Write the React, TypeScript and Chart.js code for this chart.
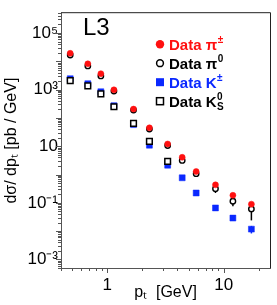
import React, { useEffect, useRef } from 'react';
import { Chart, registerables } from 'chart.js';

Chart.register(...registerables);

const FONT = "'Liberation Sans', Arial, Helvetica, sans-serif";

// ---- data ----
const ptValues = [0.48, 0.68, 0.88, 1.14, 1.68, 2.3, 3.3, 4.4, 5.8, 8.5, 12, 17.3];
const piChargedValues = [19100, 8150, 3650, 982, 205, 44.7, 12, 4.07, 1.28, 0.433, 0.185, 0.09];
const piZeroValues = [16700, 6890, 3055, 888, 189, 40.4, 10.6, 3.16, 1.07, 0.318, 0.114, 0.061];
const piZeroErrors = [0, 0, 0, 0, 0, 0, 1.5, 0.6, 0.1, 0.095, 0.0385, 0.037];
const kChargedValues = [2425, 1611, 841, 272, 58, 10.9, 2.14, 0.767, 0.223, 0.0662, 0.029, 0.0118];
const kChargedErrors = [0, 0, 0, 0, 0, 0, 0, 0.03, 0.015, 0.008, 0.004, 0.0035];
const kShortPt = [0.48, 0.68, 0.88, 1.14, 1.68, 2.3, 3.3];
const kShortValues = [2075, 1358, 704, 248, 64, 14.8, 2.92];
const kShortErrors = [0, 0, 0, 0, 0, 2, 0.6];

const xTickValues = [1, 10];
const xTickLabels = ['1', '10'];
const yTickValues = [1e5, 1e3, 10, 0.1, 1e-3];
const yTickLabels = ['10\u2075', '10\u00B3', '10', '10\u207B\u00B9', '10\u207B\u00B3'];

const legendBase = ['Data \u03C0', 'Data \u03C0', 'Data K', 'Data K'];
const legendSup = ['\u00B1', '0', '\u00B1', '0'];
const legendSub = ['', '', '', 'S'];

const RED = '#ff1010';
const BLUE = '#0a28ff';

const toPoints = (xs: number[], ys: number[]) => ys.map((v, i) => ({ x: xs[i], y: v }));

const matchLabel = (value: number, vals: number[], labels: string[]) => {
  const lv = Math.log10(value);
  for (let i = 0; i < vals.length; i++) {
    if (Math.abs(lv - Math.log10(vals[i])) < 1e-6) return labels[i];
  }
  return '';
};

const isIntMantissa = (v: number) => {
  const e = Math.floor(Math.log10(v) + 1e-9);
  const m = v / Math.pow(10, e);
  return Math.abs(m - Math.round(m)) < 1e-6;
};
const isPow10 = (v: number) => {
  const l = Math.log10(v);
  return Math.abs(l - Math.round(l)) < 1e-6;
};

const errorBarPlugin = {
  id: 'errorBars',
  beforeDatasetsDraw(chart: any) {
    const { ctx, scales } = chart;
    const x = scales.x, y = scales.y;
    chart.data.datasets.forEach((ds: any) => {
      const errs: number[] | undefined = ds.errors;
      if (!errs) return;
      ctx.save();
      ctx.strokeStyle = ds.errorColor;
      ctx.lineWidth = 1.5;
      ds.data.forEach((p: any, j: number) => {
        const e = errs[j];
        if (!e) return;
        const px = x.getPixelForValue(p.x);
        const y1 = y.getPixelForValue(Math.max(p.y - e, 1e-6));
        const y2 = y.getPixelForValue(p.y + e);
        ctx.beginPath();
        ctx.moveTo(px, y1);
        ctx.lineTo(px, y2);
        ctx.stroke();
      });
      ctx.restore();
    });
  },
};

const decorPlugin = {
  id: 'decor',
  afterDraw(chart: any) {
    const { ctx, chartArea: a, scales } = chart;
    const x = scales.x, y = scales.y;
    ctx.save();
    // tick marks
    ctx.strokeStyle = '#555';
    ctx.lineWidth = 1;
    x.ticks.forEach((t: any) => {
      if (!isIntMantissa(t.value)) return;
      const px = Math.round(x.getPixelForValue(t.value)) + 0.5;
      const len = isPow10(t.value) ? 5 : 3;
      ctx.beginPath();
      ctx.moveTo(px, a.bottom);
      ctx.lineTo(px, a.bottom + len);
      ctx.stroke();
    });
    y.ticks.forEach((t: any) => {
      if (!isIntMantissa(t.value)) return;
      const py = Math.round(y.getPixelForValue(t.value)) + 0.5;
      const len = isPow10(t.value) ? 5 : 3;
      ctx.beginPath();
      ctx.moveTo(a.left, py);
      ctx.lineTo(a.left - len, py);
      ctx.stroke();
    });
    // frame top / right
    ctx.strokeStyle = '#222';
    ctx.beginPath();
    ctx.moveTo(a.left, a.top - 0.5);
    ctx.lineTo(a.right + 0.5, a.top - 0.5);
    ctx.lineTo(a.right + 0.5, a.bottom);
    ctx.stroke();

    // experiment label
    ctx.fillStyle = '#000';
    ctx.font = `24px ${FONT}`;
    ctx.textBaseline = 'alphabetic';
    ctx.textAlign = 'left';
    ctx.fillText('L3', a.left + 22, a.top + 22);

    // legend
    const rows = [a.top + 31, a.top + 50, a.top + 69, a.top + 88];
    const mx = a.left + 99;
    const tx = a.left + 108;
    const colors = [RED, '#000', BLUE, '#000'];
    rows.forEach((cy, i) => {
      ctx.lineWidth = 1.5;
      if (i === 0) {
        ctx.fillStyle = RED;
        ctx.beginPath();
        ctx.arc(mx, cy, 4.2, 0, Math.PI * 2);
        ctx.fill();
      } else if (i === 1) {
        ctx.strokeStyle = '#000';
        ctx.beginPath();
        ctx.arc(mx, cy, 3.4, 0, Math.PI * 2);
        ctx.stroke();
      } else if (i === 2) {
        ctx.fillStyle = BLUE;
        ctx.fillRect(mx - 4, cy - 4, 8, 8);
      } else {
        ctx.strokeStyle = '#000';
        ctx.strokeRect(mx - 3.5, cy - 3.5, 7, 7);
      }
      ctx.fillStyle = colors[i];
      ctx.font = `bold 15px ${FONT}`;
      ctx.fillText(legendBase[i], tx, cy + 5.5);
      const w = ctx.measureText(legendBase[i]).width;
      ctx.font = `bold 10px ${FONT}`;
      ctx.fillText(legendSup[i], tx + w + 0.5, cy - 1);
      if (legendSub[i]) ctx.fillText(legendSub[i], tx + w + 0.5, cy + 9);
    });
    ctx.restore();
  },
};

export default function App() {
  const ref = useRef<HTMLCanvasElement | null>(null);

  useEffect(() => {
    if (!ref.current) return;
    const chart = new Chart(ref.current, {
      type: 'scatter',
      data: {
        datasets: [
          {
            label: 'Data K0S',
            data: toPoints(kShortPt, kShortValues),
            errors: kShortErrors,
            errorColor: '#000',
            pointStyle: 'rect',
            pointRadius: 4.0,
            backgroundColor: '#fff',
            borderColor: '#000',
            borderWidth: 1.5,
            order: 0,
          } as any,
          {
            label: 'Data K±',
            data: toPoints(ptValues, kChargedValues),
            errors: kChargedErrors,
            errorColor: BLUE,
            pointStyle: 'rect',
            pointRadius: 4.2,
            backgroundColor: BLUE,
            borderColor: BLUE,
            borderWidth: 0.5,
            order: 1,
          } as any,
          {
            label: 'Data π±',
            data: toPoints(ptValues, piChargedValues),
            pointStyle: 'circle',
            pointRadius: 3.0,
            backgroundColor: RED,
            borderColor: RED,
            borderWidth: 0.5,
            order: 2,
          } as any,
          {
            label: 'Data π0',
            data: toPoints(ptValues, piZeroValues),
            errors: piZeroErrors,
            errorColor: '#000',
            pointStyle: 'circle',
            pointRadius: 2.7,
            backgroundColor: '#fff',
            borderColor: '#000',
            borderWidth: 1.4,
            order: 3,
          } as any,
        ],
      },
      options: {
        animation: false,
        responsive: false,
        layout: { padding: { top: 1, right: 1, left: 0, bottom: 0 } },
        plugins: { legend: { display: false }, tooltip: { enabled: false } },
        elements: { point: { hoverRadius: 0 } },
        scales: {
          x: {
            type: 'logarithmic',
            min: 0.4,
            max: 25,
            grid: { display: false, drawTicks: false },
            border: { display: true, color: '#555', width: 1 },
            ticks: {
              autoSkip: false,
              maxRotation: 0,
              padding: 7,
              color: '#000',
              font: { family: FONT, size: 17 },
              callback: (v: any) => matchLabel(Number(v), xTickValues, xTickLabels),
            },
            title: {
              display: true,
              text: 'p\u209C  [GeV]',
              color: '#000',
              font: { family: FONT, size: 16 },
              padding: { top: 0, bottom: 2.5 },
            },
            afterFit: (s: any) => { s.height = 37; },
          },
          y: {
            type: 'logarithmic',
            min: 5e-4,
            max: 5e5,
            grid: { display: false, drawTicks: false },
            border: { display: true, color: '#555', width: 1 },
            ticks: {
              autoSkip: false,
              padding: 3,
              color: '#000',
              font: { family: FONT, size: 17 },
              callback: (v: any) => matchLabel(Number(v), yTickValues, yTickLabels),
            },
            title: {
              display: true,
              text: 'd\u03C3/ dp\u209C [pb / GeV]',
              color: '#000',
              font: { family: FONT, size: 16 },
              padding: { top: 2, bottom: 0 },
            },
            afterFit: (s: any) => { s.width = 61; },
          },
        },
      } as any,
      plugins: [errorBarPlugin, decorPlugin],
    });
    return () => chart.destroy();
  }, []);

  return (
    <div style={{ position: 'fixed', left: 0, top: 0, width: 277, height: 305, background: '#fff' }}>
      <canvas ref={ref} width={277} height={305} style={{ display: 'block' }} />
    </div>
  );
}
